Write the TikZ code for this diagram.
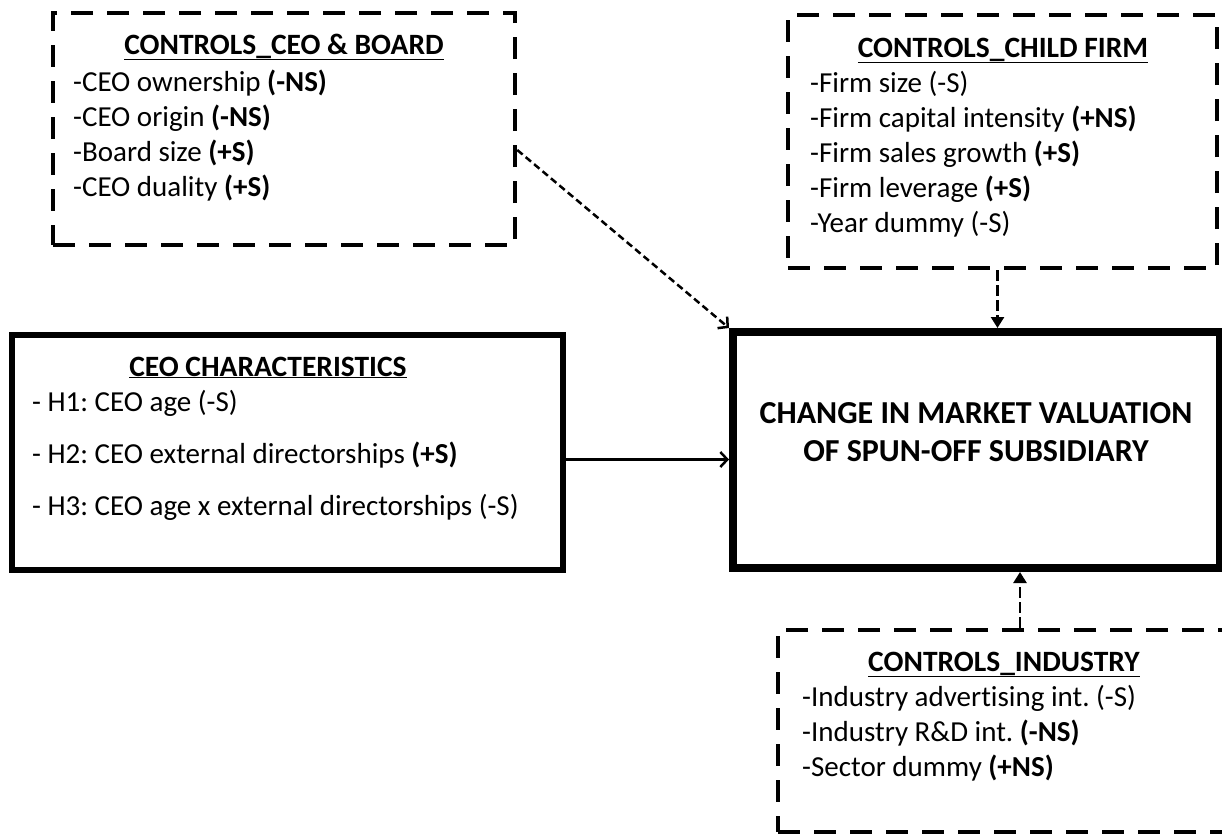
\documentclass[tikz,border=0pt]{standalone}
\usepackage{fontspec}
\setmainfont[Ligatures=NoCommon]{Carlito}
\usetikzlibrary{arrows.meta,calc}
\frenchspacing
\begin{document}
\begin{tikzpicture}[x=1pt,y=-1pt,
  ctrl/.style={draw, line width=4.5pt, dash pattern=on 22pt off 14pt, inner sep=0pt},
  mainbox/.style={draw, inner sep=0pt},
  txt/.style={inner sep=0pt, anchor=base west, font=\fontsize{29}{35}\selectfont\frenchspacing},
  ttl/.style={inner sep=0pt, anchor=base, font=\fontsize{29.5}{35}\selectfont\bfseries},
  big/.style={inner sep=0pt, anchor=base, font=\fontsize{32}{38}\selectfont\bfseries},
  dconn/.style={line width=2.5pt, dash pattern=on 7pt off 4pt},
  openTip/.style={-{Straight Barb[length=7pt,width=15pt]}},
  fillTip/.style={-{Triangle[length=11pt,width=13pt]}}
]
\path[use as bounding box] (0,0) rectangle (1222,838);

% boxes
\node[ctrl, minimum width=462pt, minimum height=232pt] (cb) at (284,129) {};
\node[ctrl, minimum width=429pt, minimum height=253pt] (cf) at (1002.5,141.5) {};
\node[ctrl, minimum width=454pt, minimum height=202pt] (ci) at (1005,731) {};
\node[mainbox, line width=6pt, minimum width=551pt, minimum height=235pt] (ceo) at (287.5,452.5) {};
\node[mainbox, line width=8pt, minimum width=487pt, minimum height=236pt] (out) at (976.5,450) {};

% controls CEO & board
\node[ttl] (cbt) at (284,54) {\underline{CONTROLS\_CEO \& BOARD}};
\node[txt] (cb1) at (73,91) {-CEO ownership \textbf{(-NS)}};
\node[txt] (cb2) at (73,126) {-CEO origin \textbf{(-NS)}};
\node[txt] (cb3) at (73,161) {-Board size \textbf{(+S)}};
\node[txt] (cb4) at (73,196) {-CEO duality \textbf{(+S)}};

% controls child firm
\node[ttl] (cft) at (1003,57) {\underline{CONTROLS\_CHILD FIRM}};
\node[txt] (cf1) at (810,92) {-Firm size (-S)};
\node[txt] (cf2) at (810,127) {-Firm capital intensity \textbf{(+NS)}};
\node[txt] (cf3) at (810,162) {-Firm sales growth \textbf{(+S)}};
\node[txt] (cf4) at (810,197) {-Firm leverage \textbf{(+S)}};
\node[txt] (cf5) at (810,232) {-Year dummy (-S)};

% controls industry
\node[ttl] (cit) at (1004,671) {\underline{CONTROLS\_INDUSTRY}};
\node[txt] (ci1) at (802,706) {-Industry advertising int. (-S)};
\node[txt] (ci2) at (802,741) {-Industry R\&D int. \textbf{(-NS)}};
\node[txt] (ci3) at (802,776) {-Sector dummy \textbf{(+NS)}};

% CEO characteristics
\node[ttl] (ceot) at (268,376) {\underline{CEO CHARACTERISTICS}};
\node[txt] (ceo1) at (32,411) {- H1: CEO age (-S)};
\node[txt] (ceo2) at (32,463) {- H2: CEO external directorships \textbf{(+S)}};
\node[txt] (ceo3) at (32,515) {- H3: CEO age x external directorships (-S)};

% outcome
\node[big] (out1) at (976,423) {CHANGE IN MARKET VALUATION};
\node[big] (out2) at (976,461) {OF SPUN-OFF SUBSIDIARY};

% connectors
\draw[dconn, openTip] ([yshift=-21pt]cb.east) -- (out.north west);
\draw[dconn, dash pattern=on 11pt off 4pt, fillTip] ([xshift=-5pt]cf.south) -- ([xshift=-5pt]cf.south |- out.north);
\draw[dconn, dash pattern=on 11pt off 4pt, fillTip] ([xshift=15pt]ci.north) -- ([xshift=15pt]ci.north |- out.south);
\draw[line width=2.5pt, openTip] ([yshift=-7pt]ceo.east) -- ([yshift=-7pt]ceo.east -| out.west);
\end{tikzpicture}
\end{document}
